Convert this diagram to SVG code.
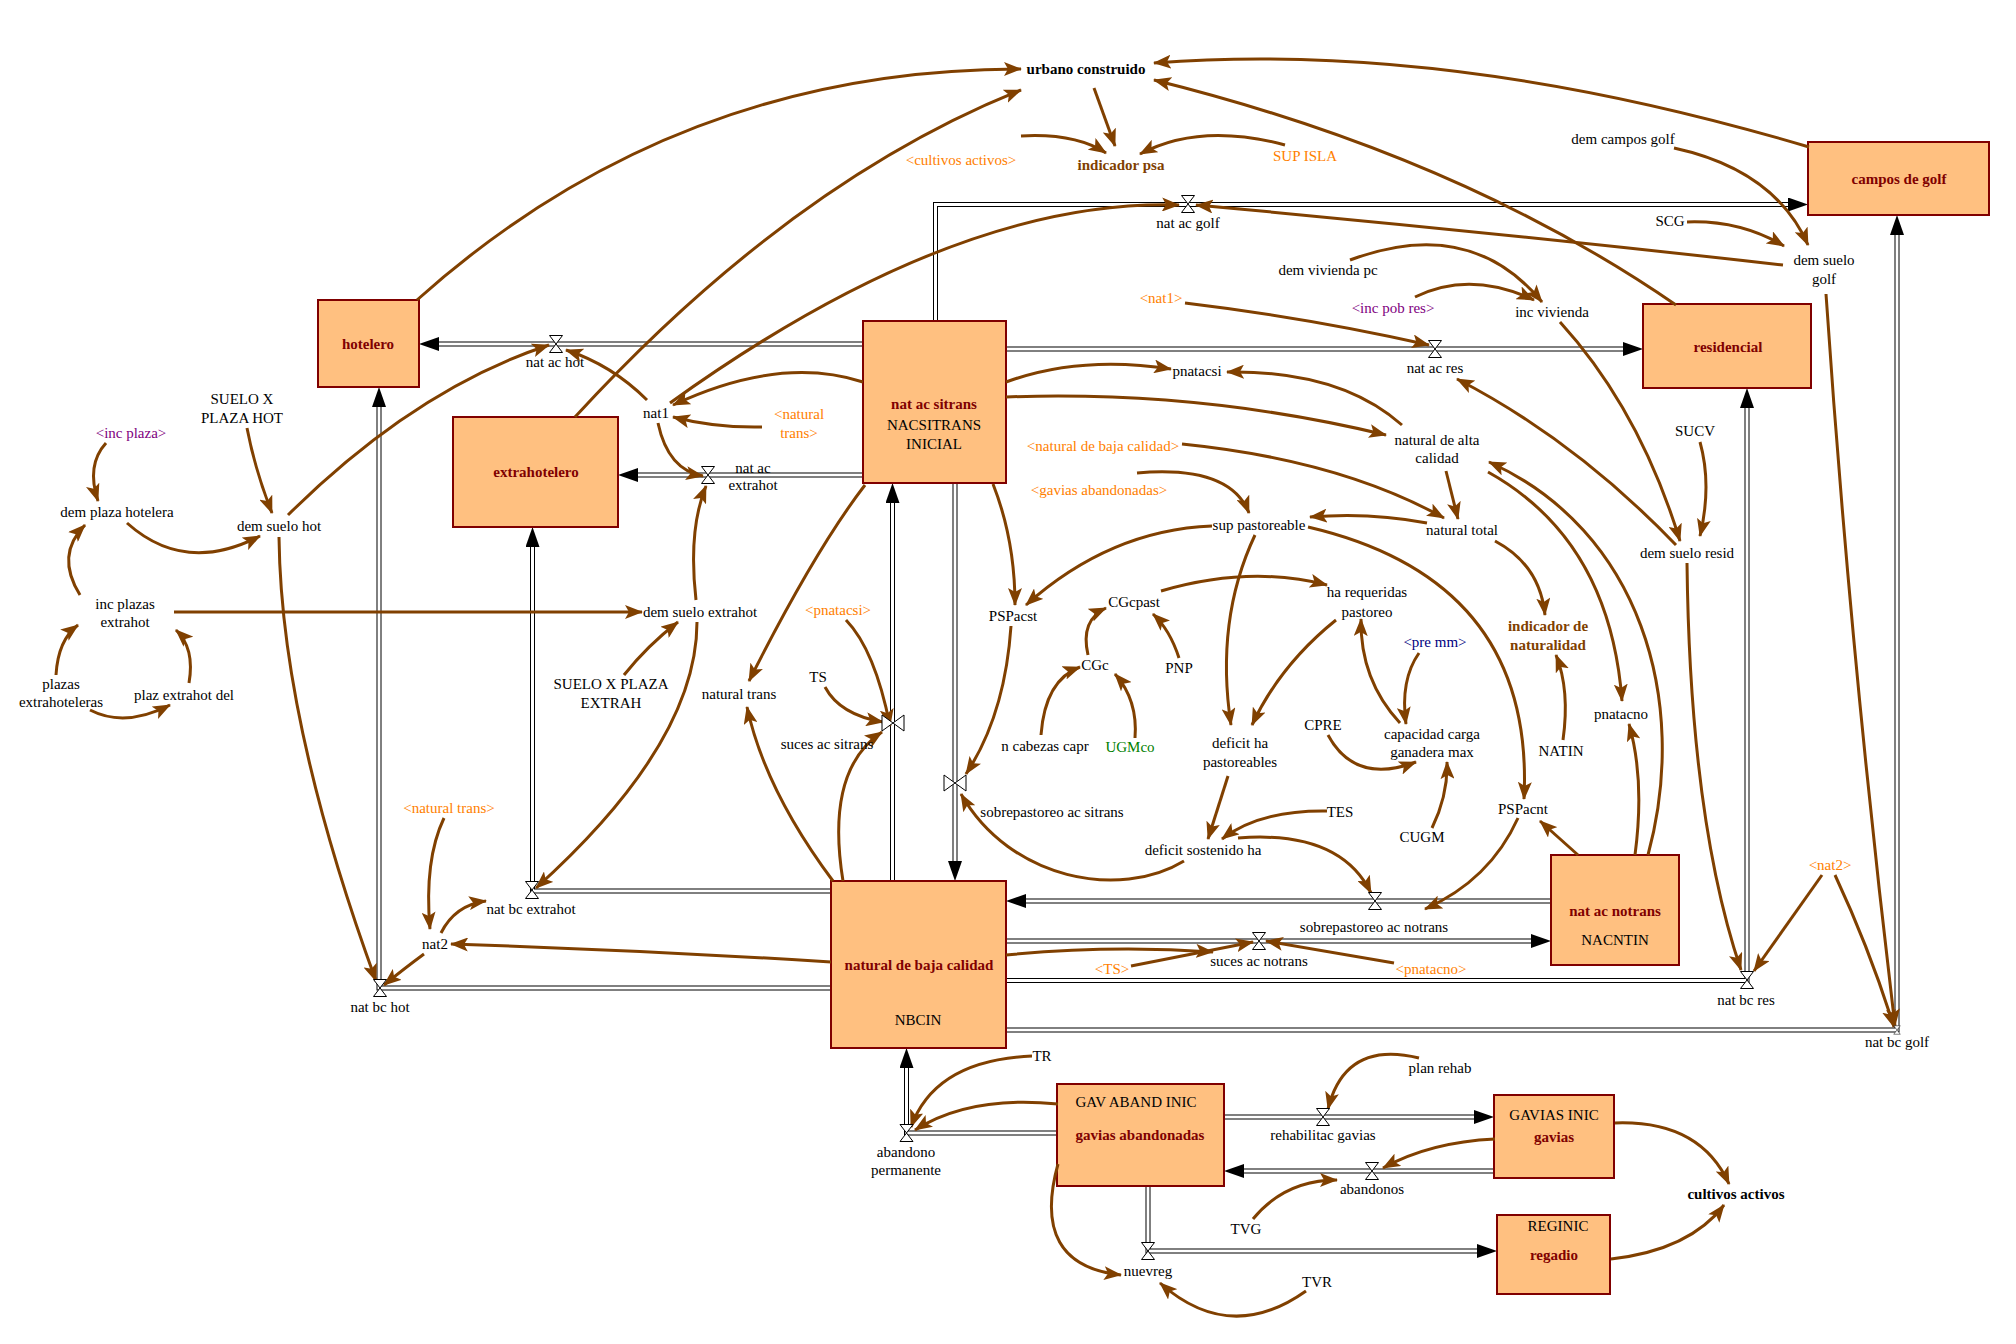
<svg xmlns="http://www.w3.org/2000/svg" width="2016" height="1344" viewBox="0 0 2016 1344">
<style>
.t{font-family:"Liberation Serif","Times New Roman",serif;font-size:15px;text-anchor:middle;fill:#000}
.o{fill:#FF8000}
.p{fill:#800080}
.n{fill:#000080}
.g{fill:#008000}
.sb{font-weight:bold;fill:#800000}
.ib{font-weight:bold;fill:#804000}
.bb{font-weight:bold;fill:#000}
.stock{fill:#FFC080;stroke:#800000;stroke-width:2}
.po{fill:none;stroke:#000;stroke-width:5;marker-end:url(#pa)}
.pi{fill:none;stroke:#fff;stroke-width:3}
.valve{fill:#fff;stroke:#000;stroke-width:1}
.c{fill:none;stroke:#804000;stroke-width:3;marker-end:url(#ah)}
</style>
<defs>
<marker id="ah" markerWidth="18" markerHeight="14" refX="17" refY="7" orient="auto" markerUnits="userSpaceOnUse"><path d="M0,0 L18,7 L0,14 L4,7 Z" fill="#804000"/></marker>
<marker id="pa" markerWidth="20" markerHeight="14" refX="0" refY="7" orient="auto" markerUnits="userSpaceOnUse"><path d="M0,0 L20,7 L0,14 Z" fill="#000"/></marker>
<path id="vh" d="M-6.5,-8.5 H6.5 L-6.5,8.5 H6.5 Z"/>
<path id="vv" d="M-11,-8 V8 L11,-8 V8 Z"/>
</defs>
<rect width="2016" height="1344" fill="#fff"/>

<g id="pipes">
<path class="po" d="M863,344 H439"/><path class="pi" d="M863,344 H439"/>
<path class="po" d="M863,475 H638"/><path class="pi" d="M863,475 H638"/>
<path class="po" d="M935.5,321 V204.5 H1788"/><path class="pi" d="M935.5,321 V204.5 H1788"/>
<path class="po" d="M1006,349 H1623"/><path class="pi" d="M1006,349 H1623"/>
<path class="po" d="M892.5,881 V503"/><path class="pi" d="M892.5,881 V503"/>
<path class="po" d="M955,483 V861"/><path class="pi" d="M955,483 V861"/>
<path class="po" d="M831,988 H379 V407"/><path class="pi" d="M831,988 H379 V407"/>
<path class="po" d="M831,891 H532.5 V547"/><path class="pi" d="M831,891 H532.5 V547"/>
<path class="po" d="M1006,980.5 H1747 V408"/><path class="pi" d="M1006,980.5 H1747 V408"/>
<path class="po" d="M1006,1030 H1897 V235"/><path class="pi" d="M1006,1030 H1897 V235"/>
<path class="po" d="M1551,901 H1026"/><path class="pi" d="M1551,901 H1026"/>
<path class="po" d="M1006,941 H1531"/><path class="pi" d="M1006,941 H1531"/>
<path class="po" d="M1057,1133 H906.5 V1068"/><path class="pi" d="M1057,1133 H906.5 V1068"/>
<path class="po" d="M1224,1117 H1474"/><path class="pi" d="M1224,1117 H1474"/>
<path class="po" d="M1494,1171 H1244"/><path class="pi" d="M1494,1171 H1244"/>
<path class="po" d="M1148,1186 V1251 H1477"/><path class="pi" d="M1148,1186 V1251 H1477"/>
</g>

<g id="stock-hotelero"><rect class="stock" x="318" y="300" width="101" height="87"/><text class="t sb" x="368" y="349">hotelero</text></g>
<g id="stock-extrahotelero"><rect class="stock" x="453" y="417" width="165" height="110"/><text class="t sb" x="536" y="477">extrahotelero</text></g>
<g id="stock-nat-ac-sitrans"><rect class="stock" x="863" y="321" width="143" height="162"/><text class="t sb" x="934" y="409">nat ac sitrans</text><text class="t" x="934" y="430">NACSITRANS</text><text class="t" x="934" y="449">INICIAL</text></g>
<g id="stock-natural-baja"><rect class="stock" x="831" y="881" width="175" height="167"/><text class="t sb" x="919" y="970">natural de baja calidad</text><text class="t" x="918" y="1025">NBCIN</text></g>
<g id="stock-nat-ac-notrans"><rect class="stock" x="1551" y="855" width="128" height="110"/><text class="t sb" x="1615" y="916">nat ac notrans</text><text class="t" x="1615" y="945">NACNTIN</text></g>
<g id="stock-residencial"><rect class="stock" x="1643" y="304" width="168" height="84"/><text class="t sb" x="1728" y="352">residencial</text></g>
<g id="stock-campos-golf"><rect class="stock" x="1808" y="142" width="181" height="73"/><text class="t sb" x="1899" y="184">campos de golf</text></g>
<g id="stock-gavias-abandonadas"><rect class="stock" x="1057" y="1084" width="167" height="102"/><text class="t" x="1136" y="1107">GAV ABAND INIC</text><text class="t sb" x="1140" y="1140">gavias abandonadas</text></g>
<g id="stock-gavias"><rect class="stock" x="1494" y="1095" width="120" height="83"/><text class="t" x="1554" y="1120">GAVIAS INIC</text><text class="t sb" x="1554" y="1142">gavias</text></g>
<g id="stock-regadio"><rect class="stock" x="1497" y="1215" width="113" height="79"/><text class="t" x="1558" y="1231">REGINIC</text><text class="t sb" x="1554" y="1260">regadio</text></g>

<g id="connectors">
<path class="c" d="M417,300 Q675,69 1021,69"/>
<path class="c" d="M575,417 Q791,182 1021,90"/>
<path class="c" d="M863,382 Q780,355 673,405"/>
<path class="c" d="M670,403 Q955,198 1179,205"/>
<path class="c" d="M647,400 Q612,365 566,350"/>
<path class="c" d="M658,423 Q668,470 703,476"/>
<path class="c" d="M762,427 Q715,428 673,417"/>
<path class="c" d="M288,515 Q415,389 549,345"/>
<path class="c" d="M279,537 Q281,721 376,981"/>
<path class="c" d="M247,428 Q255,470 272,513"/>
<path class="c" d="M106,443 Q86,465 98,501"/>
<path class="c" d="M127,523 Q185,575 260,536"/>
<path class="c" d="M80,595 Q55,555 85,525"/>
<path class="c" d="M174,612 L642,612"/>
<path class="c" d="M56,675 Q58,640 78,625"/>
<path class="c" d="M90,710 Q125,728 170,705"/>
<path class="c" d="M189,683 Q195,648 176,630"/>
<path class="c" d="M624,675 Q648,645 678,622"/>
<path class="c" d="M696,600 Q688,530 706,486"/>
<path class="c" d="M697,622 Q697,743 536,888"/>
<path class="c" d="M444,818 Q424,860 430,929"/>
<path class="c" d="M441,933 Q455,905 486,901"/>
<path class="c" d="M424,954 Q405,968 384,985"/>
<path class="c" d="M831,962 Q640,950 451,944"/>
<path class="c" d="M865,485 Q815,550 749,681"/>
<path class="c" d="M833,881 Q765,790 747,707"/>
<path class="c" d="M843,881 Q825,770 882,732"/>
<path class="c" d="M846,620 Q875,650 890,726"/>
<path class="c" d="M825,687 Q840,715 883,722"/>
<path class="c" d="M993,484 Q1015,540 1015,605"/>
<path class="c" d="M1212,526 Q1110,530 1026,605"/>
<path class="c" d="M1011,626 Q1005,715 966,774"/>
<path class="c" d="M1184,861 C1120,900 1010,880 961,794"/>
<path class="c" d="M1255,535 Q1215,620 1231,725"/>
<path class="c" d="M1336,620 Q1280,665 1252,725"/>
<path class="c" d="M1161,591 Q1250,565 1327,585"/>
<path class="c" d="M1088,655 Q1080,620 1106,608"/>
<path class="c" d="M1179,658 Q1170,630 1153,614"/>
<path class="c" d="M1041,735 Q1045,680 1080,667"/>
<path class="c" d="M1135,738 Q1138,700 1115,674"/>
<path class="c" d="M1228,776 L1208,839"/>
<path class="c" d="M1327,811 Q1260,810 1222,839"/>
<path class="c" d="M1238,838 Q1340,830 1371,893"/>
<path class="c" d="M1328,735 Q1355,785 1416,762"/>
<path class="c" d="M1432,828 Q1448,795 1447,762"/>
<path class="c" d="M1419,653 Q1400,680 1406,724"/>
<path class="c" d="M1400,723 Q1360,680 1361,619"/>
<path class="c" d="M1308,527 Q1535,580 1524,799"/>
<path class="c" d="M1427,523 Q1370,512 1310,517"/>
<path class="c" d="M1137,473 Q1230,465 1249,513"/>
<path class="c" d="M1182,444 Q1340,460 1444,518"/>
<path class="c" d="M1446,471 Q1452,495 1458,519"/>
<path class="c" d="M1495,541 Q1540,565 1545,615"/>
<path class="c" d="M1563,740 Q1570,690 1556,655"/>
<path class="c" d="M1006,382 Q1080,355 1171,369"/>
<path class="c" d="M1402,425 Q1340,370 1227,372"/>
<path class="c" d="M1006,397 Q1200,390 1386,435"/>
<path class="c" d="M1488,472 Q1610,540 1622,701"/>
<path class="c" d="M1648,855 C1690,700 1640,530 1489,462"/>
<path class="c" d="M1635,855 Q1645,780 1629,724"/>
<path class="c" d="M1578,855 L1540,821"/>
<path class="c" d="M1518,818 Q1490,880 1425,909"/>
<path class="c" d="M1185,303 Q1310,318 1429,345"/>
<path class="c" d="M1676,545 Q1575,440 1457,379"/>
<path class="c" d="M1560,322 Q1640,410 1680,541"/>
<path class="c" d="M1700,442 Q1712,485 1700,536"/>
<path class="c" d="M1687,563 Q1690,820 1741,970"/>
<path class="c" d="M1822,875 Q1790,920 1754,971"/>
<path class="c" d="M1835,875 Q1870,950 1894,1027"/>
<path class="c" d="M1826,294 Q1850,650 1895,1026"/>
<path class="c" d="M1783,265 Q1490,232 1196,205"/>
<path class="c" d="M1687,222 Q1740,220 1784,246"/>
<path class="c" d="M1674,148 Q1775,170 1808,245"/>
<path class="c" d="M1809,147 Q1450,40 1154,63"/>
<path class="c" d="M1676,305 Q1460,156 1154,80"/>
<path class="c" d="M1094,88 L1115,146"/>
<path class="c" d="M1021,136 Q1075,133 1106,153"/>
<path class="c" d="M1285,145 Q1200,122 1140,154"/>
<path class="c" d="M1350,260 Q1470,215 1542,302"/>
<path class="c" d="M1415,297 Q1470,270 1534,300"/>
<path class="c" d="M1006,955 Q1110,945 1213,952"/>
<path class="c" d="M1131,966 L1253,942"/>
<path class="c" d="M1394,963 L1266,941"/>
<path class="c" d="M1032,1056 Q935,1060 911,1127"/>
<path class="c" d="M1058,1104 Q970,1095 915,1130"/>
<path class="c" d="M1058,1164 Q1030,1265 1121,1275"/>
<path class="c" d="M1306,1291 Q1230,1345 1160,1283"/>
<path class="c" d="M1253,1219 Q1285,1180 1337,1180"/>
<path class="c" d="M1419,1058 Q1345,1040 1328,1109"/>
<path class="c" d="M1495,1139 Q1430,1142 1383,1168"/>
<path class="c" d="M1615,1123 Q1700,1120 1729,1184"/>
<path class="c" d="M1611,1259 Q1690,1250 1724,1205"/>
</g>

<g id="flow-nat-ac-hot"><use href="#vh" class="valve" x="556" y="344"/><text class="t" x="555" y="367">nat ac hot</text></g>
<g id="flow-nat-ac-extrahot"><use href="#vh" class="valve" x="708" y="475"/><text class="t" x="753" y="473">nat ac</text><text class="t" x="753" y="490">extrahot</text></g>
<g id="flow-nat-ac-golf"><use href="#vh" class="valve" x="1188" y="204"/><text class="t" x="1188" y="228">nat ac golf</text></g>
<g id="flow-nat-ac-res"><use href="#vh" class="valve" x="1435" y="349"/><text class="t" x="1435" y="373">nat ac res</text></g>
<g id="flow-suces-ac-sitrans"><use href="#vv" class="valve" x="893" y="723"/><text class="t" x="827" y="749">suces ac sitrans</text></g>
<g id="flow-sobrepastoreo-ac-sitrans"><use href="#vv" class="valve" x="955" y="783"/><text class="t" x="1052" y="817">sobrepastoreo ac sitrans</text></g>
<g id="flow-nat-bc-hot"><use href="#vh" class="valve" x="380" y="988"/><text class="t" x="380" y="1012">nat bc hot</text></g>
<g id="flow-nat-bc-extrahot"><use href="#vh" class="valve" x="532" y="890"/><text class="t" x="531" y="914">nat bc extrahot</text></g>
<g id="flow-nat-bc-res"><use href="#vh" class="valve" x="1747" y="980"/><text class="t" x="1746" y="1005">nat bc res</text></g>
<g id="flow-nat-bc-golf"><use href="#vh" class="valve" transform="translate(1897,1030) scale(0.5)"/><text class="t" x="1897" y="1047">nat bc golf</text></g>
<g id="flow-sobrepastoreo-ac-notrans"><use href="#vh" class="valve" x="1375" y="901"/><text class="t" x="1374" y="932">sobrepastoreo ac notrans</text></g>
<g id="flow-suces-ac-notrans"><use href="#vh" class="valve" x="1259" y="941"/><text class="t" x="1259" y="966">suces ac notrans</text></g>
<g id="flow-abandono-permanente"><use href="#vh" class="valve" x="906.5" y="1133"/><text class="t" x="906" y="1157">abandono</text><text class="t" x="906" y="1175">permanente</text></g>
<g id="flow-rehabilitac-gavias"><use href="#vh" class="valve" x="1323" y="1117"/><text class="t" x="1323" y="1140">rehabilitac gavias</text></g>
<g id="flow-abandonos"><use href="#vh" class="valve" x="1372" y="1171"/><text class="t" x="1372" y="1194">abandonos</text></g>
<g id="flow-nuevreg"><use href="#vh" class="valve" x="1148" y="1251"/><text class="t" x="1148" y="1276">nuevreg</text></g>

<g id="aux-urbano-construido"><text class="t bb" x="1086" y="74">urbano construido</text></g>
<g id="aux-indicador-psa"><text class="t ib" x="1121" y="170">indicador psa</text></g>
<g id="aux-cultivos-activos-shadow"><text class="t o" x="961" y="165">&lt;cultivos activos&gt;</text></g>
<g id="aux-sup-isla"><text class="t o" x="1305" y="161">SUP ISLA</text></g>
<g id="aux-nat1-shadow"><text class="t o" x="1161" y="303">&lt;nat1&gt;</text></g>
<g id="aux-natural-trans-shadow1"><text class="t o" x="799" y="419">&lt;natural</text><text class="t o" x="799" y="438">trans&gt;</text></g>
<g id="aux-natural-baja-shadow"><text class="t o" x="1103" y="451">&lt;natural de baja calidad&gt;</text></g>
<g id="aux-gavias-abandonadas-shadow"><text class="t o" x="1099" y="495">&lt;gavias abandonadas&gt;</text></g>
<g id="aux-pnatacsi-shadow"><text class="t o" x="838" y="615">&lt;pnatacsi&gt;</text></g>
<g id="aux-natural-trans-shadow2"><text class="t o" x="449" y="813">&lt;natural trans&gt;</text></g>
<g id="aux-ts-shadow"><text class="t o" x="1112" y="974">&lt;TS&gt;</text></g>
<g id="aux-pnatacno-shadow"><text class="t o" x="1431" y="974">&lt;pnatacno&gt;</text></g>
<g id="aux-nat2-shadow"><text class="t o" x="1830" y="870">&lt;nat2&gt;</text></g>
<g id="aux-inc-plaza"><text class="t p" x="131" y="438">&lt;inc plaza&gt;</text></g>
<g id="aux-inc-pob-res"><text class="t p" x="1393" y="313">&lt;inc pob res&gt;</text></g>
<g id="aux-pre-mm"><text class="t n" x="1435" y="647">&lt;pre mm&gt;</text></g>
<g id="aux-ugmco"><text class="t g" x="1130" y="752">UGMco</text></g>
<g id="aux-indicador-naturalidad"><text class="t ib" x="1548" y="631">indicador de</text><text class="t ib" x="1548" y="650">naturalidad</text></g>
<g id="aux-cultivos-activos"><text class="t bb" x="1736" y="1199">cultivos activos</text></g>

<g id="aux-suelo-plaza-hot"><text class="t" x="242" y="404">SUELO X</text><text class="t" x="242" y="423">PLAZA HOT</text></g>
<g id="aux-dem-plaza-hotelera"><text class="t" x="117" y="517">dem plaza hotelera</text></g>
<g id="aux-dem-suelo-hot"><text class="t" x="279" y="531">dem suelo hot</text></g>
<g id="aux-inc-plazas-extrahot"><text class="t" x="125" y="609">inc plazas</text><text class="t" x="125" y="627">extrahot</text></g>
<g id="aux-plazas-extrahoteleras"><text class="t" x="61" y="689">plazas</text><text class="t" x="61" y="707">extrahoteleras</text></g>
<g id="aux-plaz-extrahot-del"><text class="t" x="184" y="700">plaz extrahot del</text></g>
<g id="aux-suelo-plaza-extrah"><text class="t" x="611" y="689">SUELO X PLAZA</text><text class="t" x="611" y="708">EXTRAH</text></g>
<g id="aux-dem-suelo-extrahot"><text class="t" x="700" y="617">dem suelo extrahot</text></g>
<g id="aux-nat1"><text class="t" x="656" y="418">nat1</text></g>
<g id="aux-nat2"><text class="t" x="435" y="949">nat2</text></g>
<g id="aux-natural-trans"><text class="t" x="739" y="699">natural trans</text></g>
<g id="aux-ts"><text class="t" x="818" y="682">TS</text></g>
<g id="aux-pspacst"><text class="t" x="1013" y="621">PSPacst</text></g>
<g id="aux-cgcpast"><text class="t" x="1134" y="607">CGcpast</text></g>
<g id="aux-cgc"><text class="t" x="1095" y="670">CGc</text></g>
<g id="aux-pnp"><text class="t" x="1179" y="673">PNP</text></g>
<g id="aux-n-cabezas-capr"><text class="t" x="1045" y="751">n cabezas capr</text></g>
<g id="aux-deficit-ha"><text class="t" x="1240" y="748">deficit ha</text><text class="t" x="1240" y="767">pastoreables</text></g>
<g id="aux-cpre"><text class="t" x="1323" y="730">CPRE</text></g>
<g id="aux-tes"><text class="t" x="1340" y="817">TES</text></g>
<g id="aux-deficit-sostenido"><text class="t" x="1203" y="855">deficit sostenido ha</text></g>
<g id="aux-sup-pastoreable"><text class="t" x="1259" y="530">sup pastoreable</text></g>
<g id="aux-ha-requeridas"><text class="t" x="1367" y="597">ha requeridas</text><text class="t" x="1367" y="617">pastoreo</text></g>
<g id="aux-capacidad"><text class="t" x="1432" y="739">capacidad carga</text><text class="t" x="1432" y="757">ganadera max</text></g>
<g id="aux-cugm"><text class="t" x="1422" y="842">CUGM</text></g>
<g id="aux-pspacnt"><text class="t" x="1523" y="814">PSPacnt</text></g>
<g id="aux-natin"><text class="t" x="1561" y="756">NATIN</text></g>
<g id="aux-pnatacno"><text class="t" x="1621" y="719">pnatacno</text></g>
<g id="aux-natural-total"><text class="t" x="1462" y="535">natural total</text></g>
<g id="aux-natural-alta"><text class="t" x="1437" y="445">natural de alta</text><text class="t" x="1437" y="463">calidad</text></g>
<g id="aux-pnatacsi"><text class="t" x="1197" y="376">pnatacsi</text></g>
<g id="aux-dem-vivienda-pc"><text class="t" x="1328" y="275">dem vivienda pc</text></g>
<g id="aux-inc-vivienda"><text class="t" x="1552" y="317">inc vivienda</text></g>
<g id="aux-dem-campos-golf"><text class="t" x="1623" y="144">dem campos golf</text></g>
<g id="aux-scg"><text class="t" x="1670" y="226">SCG</text></g>
<g id="aux-dem-suelo-golf"><text class="t" x="1824" y="265">dem suelo</text><text class="t" x="1824" y="284">golf</text></g>
<g id="aux-sucv"><text class="t" x="1695" y="436">SUCV</text></g>
<g id="aux-dem-suelo-resid"><text class="t" x="1687" y="558">dem suelo resid</text></g>
<g id="aux-tr"><text class="t" x="1042" y="1061">TR</text></g>
<g id="aux-plan-rehab"><text class="t" x="1440" y="1073">plan rehab</text></g>
<g id="aux-tvg"><text class="t" x="1246" y="1234">TVG</text></g>
<g id="aux-tvr"><text class="t" x="1317" y="1287">TVR</text></g>
</svg>
